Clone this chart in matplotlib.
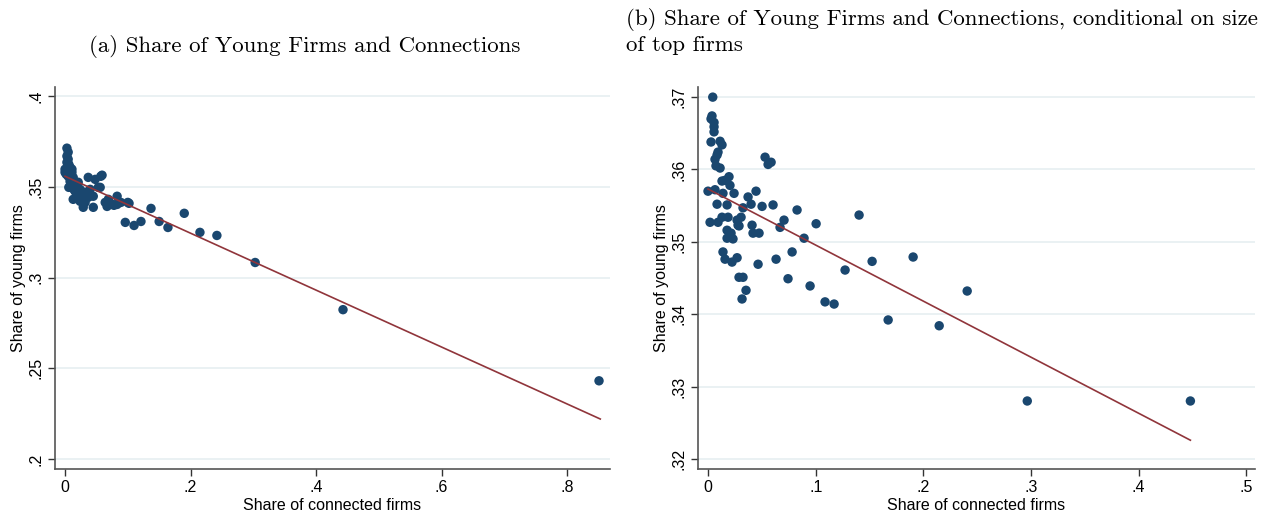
import numpy as np
import matplotlib
matplotlib.use("Agg")
import matplotlib.pyplot as plt

# panel (a): binned share of connected firms vs share of young firms
a_x = [0.003, 0.005, 0.003, 0.005, 0.003, 0.006, 0.000, 0.008, 0.000, 0.011,
       0.005, 0.013, 0.008, 0.006, 0.016, 0.021, 0.037, 0.048, 0.057, 0.053,
       0.016, 0.024, 0.019, 0.027, 0.032, 0.037, 0.045, 0.013, 0.024, 0.032,
       0.029, 0.045, 0.064, 0.069, 0.083, 0.076, 0.067, 0.083, 0.100, 0.137,
       0.059, 0.056, 0.072, 0.078, 0.089, 0.102, 0.010, 0.014, 0.021, 0.040,
       0.002, 0.011, 0.190, 0.096, 0.110, 0.121, 0.150, 0.164, 0.215, 0.242,
       0.303, 0.443, 0.851]
a_y = [0.3713, 0.3691, 0.3669, 0.3652, 0.3635, 0.3624, 0.3597, 0.3608, 0.3580, 0.3580,
       0.3558, 0.3552, 0.3530, 0.3497, 0.3514, 0.3525, 0.3552, 0.3541, 0.3558, 0.3497,
       0.3475, 0.3486, 0.3448, 0.3448, 0.3470, 0.3442, 0.3448, 0.3431, 0.3420, 0.3414,
       0.3387, 0.3387, 0.3414, 0.3431, 0.3448, 0.3403, 0.3392, 0.3403, 0.3414, 0.3381,
       0.3564, 0.3497, 0.3403, 0.3398, 0.3414, 0.3409, 0.3514, 0.3486, 0.3459, 0.3486,
       0.3569, 0.3597, 0.3354, 0.3304, 0.3287, 0.3309, 0.3309, 0.3276, 0.3249, 0.3232,
       0.3083, 0.2823, 0.2431]
a_fit = (0.3558, -0.1568)   # intercept, slope
a_xrange = (0.0, 0.853)

# panel (b): conditional on size of top firms
b_x = [0.0044, 0.0037, 0.0028, 0.0056, 0.0056, 0.0056, 0.0028, 0.0112, 0.0130, 0.0093,
       0.0084, 0.0065, 0.0074, 0.0112, 0.0530, 0.0558, 0.0586, 0.0130, 0.0158, 0.0195,
       0.0204, 0.0000, 0.0065, 0.0139, 0.0242, 0.0446, 0.0372, 0.0084, 0.0177, 0.0400,
       0.0502, 0.0604, 0.0325, 0.0827, 0.0019, 0.0093, 0.0130, 0.0186, 0.0270, 0.0307,
       0.0288, 0.0409, 0.0706, 0.0669, 0.1004, 0.0177, 0.0214, 0.0418, 0.0474, 0.0279,
       0.0177, 0.0232, 0.0892, 0.0139, 0.0781, 0.0158, 0.0223, 0.0270, 0.0465, 0.0632,
       0.0288, 0.0325, 0.0743, 0.0948, 0.0353, 0.0316, 0.1403, 0.1905, 0.1524, 0.1273,
       0.2407, 0.1087, 0.1171, 0.1673, 0.2147, 0.2965, 0.4480]
b_y = [0.3700, 0.3674, 0.3670, 0.3665, 0.3659, 0.3652, 0.3638, 0.3639, 0.3634, 0.3624,
       0.3620, 0.3614, 0.3605, 0.3602, 0.3617, 0.3607, 0.3610, 0.3584, 0.3585, 0.3590,
       0.3578, 0.3570, 0.3572, 0.3567, 0.3567, 0.3570, 0.3562, 0.3552, 0.3551, 0.3552,
       0.3549, 0.3551, 0.3547, 0.3544, 0.3527, 0.3527, 0.3534, 0.3534, 0.3530, 0.3534,
       0.3522, 0.3523, 0.3530, 0.3520, 0.3525, 0.3516, 0.3512, 0.3512, 0.3512, 0.3523,
       0.3505, 0.3504, 0.3505, 0.3486, 0.3486, 0.3476, 0.3472, 0.3478, 0.3469, 0.3476,
       0.3451, 0.3451, 0.3449, 0.3439, 0.3433, 0.3421, 0.3537, 0.3479, 0.3473, 0.3461,
       0.3432, 0.3417, 0.3414, 0.3392, 0.3384, 0.3280, 0.3280]
b_fit = (0.3573, -0.0775)
b_xrange = (0.0, 0.448)

a_xticks = [0, 0.2, 0.4, 0.6, 0.8]
a_xlabels = ["0", ".2", ".4", ".6", ".8"]
a_yticks = [0.2, 0.25, 0.3, 0.35, 0.4]
a_ylabels = [".2", ".25", ".3", ".35", ".4"]
b_xticks = [0, 0.1, 0.2, 0.3, 0.4, 0.5]
b_xlabels = ["0", ".1", ".2", ".3", ".4", ".5"]
b_yticks = [0.32, 0.33, 0.34, 0.35, 0.36, 0.37]
b_ylabels = [".32", ".33", ".34", ".35", ".36", ".37"]

NAVY = "#1a476f"
MAROON = "#90353b"
GRID = "#e6eff1"
SANS = ["Liberation Sans", "DejaVu Sans"]
SERIF = ["cmr10", "DejaVu Serif"]

W, H = 1285, 514
fig = plt.figure(figsize=(W / 100, H / 100), dpi=100)


def panel(rect, x, y, fit, xr, xt, xl, yt, yl, xlim, ylim):
    ax = fig.add_axes(rect)
    ax.scatter(x, y, s=46, color=NAVY, edgecolors="none", zorder=3)
    xs = np.array(xr)
    ax.plot(xs, fit[0] + fit[1] * xs, color=MAROON, lw=1.2, zorder=4)
    ax.set_xlim(*xlim)
    ax.set_ylim(*ylim)
    ax.set_xticks(xt)
    ax.set_xticklabels(xl, family=SANS, fontsize=11.5)
    ax.set_yticks(yt)
    ax.set_yticklabels(yl, family=SANS, fontsize=11.5, rotation=90, va="center")
    ax.yaxis.grid(True, color=GRID, lw=1.2)
    ax.set_axisbelow(True)
    for s in ["top", "right"]:
        ax.spines[s].set_visible(False)
    for s in ["left", "bottom"]:
        ax.spines[s].set_color("#555555")
        ax.spines[s].set_linewidth(1.2)
    ax.tick_params(length=5, width=1, color="#333333", pad=3)
    ax.set_xlabel("Share of connected firms", family=SANS, fontsize=11.5, labelpad=2)
    ax.set_ylabel("Share of young firms", family=SANS, fontsize=11.5, labelpad=2)
    return ax


bot = 1 - 469 / H
top = 1 - 87 / H
panel([55 / W, bot, (610 - 55) / W, top - bot], a_x, a_y, a_fit, a_xrange,
      a_xticks, a_xlabels, a_yticks, a_ylabels, (-0.016, 0.8685), (0.1945, 0.405))
panel([698 / W, bot, (1255 - 698) / W, top - bot], b_x, b_y, b_fit, b_xrange,
      b_xticks, b_xlabels, b_yticks, b_ylabels, (-0.0093, 0.508), (0.3186, 0.3714))

fig.text(305 / W, 1 - 46 / H, "(a) Share of Young Firms and Connections",
         family=SERIF, fontsize=16.5, ha="center", va="center")
fig.text(626 / W, 1 - 8 / H,
         "(b) Share of Young Firms and Connections, conditional on size\nof top firms",
         family=SERIF, fontsize=16.5, ha="left", va="top", linespacing=1.3)

fig.savefig("out.png", dpi=100)
